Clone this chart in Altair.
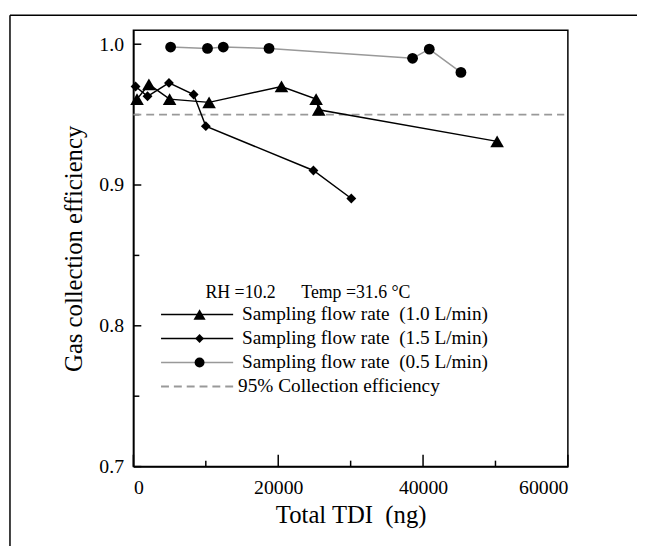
import altair as alt
import pandas as pd

# ---- data ----
tri_x = [500, 2140, 5000, 10450, 20450, 25230, 25590, 50230]
tri_y = [0.961, 0.9715, 0.961, 0.9587, 0.970, 0.961, 0.9534, 0.931]
dia_x = [300, 1950, 4910, 8320, 10000, 24860, 30090]
dia_y = [0.970, 0.963, 0.9725, 0.9643, 0.9418, 0.9103, 0.8904]
cir_x = [5140, 10230, 12410, 18730, 38550, 40860, 45230]
cir_y = [0.998, 0.997, 0.998, 0.997, 0.990, 0.9965, 0.980]
ref_level = 0.95

x_major = [0, 20000, 40000, 60000]
x_minor = [10000, 30000, 50000]
y_major = [0.7, 0.8, 0.9, 1.0]
y_minor = [0.75, 0.85, 0.95]

NB = "\u00a0"
legend_labels = [
    f"Sampling flow rate{NB} (1.0 L/min)",
    f"Sampling flow rate{NB} (1.5 L/min)",
    f"Sampling flow rate{NB} (0.5 L/min)",
    "95% Collection efficiency",
]
note_rh = "RH =10.2"
note_temp = "Temp =31.6 \u00b0C"

FONT = "Liberation Serif"
W, H = 440, 442
xs = alt.Scale(domain=[0, 60000], nice=False)
ys = alt.Scale(domain=[0.7, 1.01], nice=False, zero=False)
x_axis = alt.Axis(values=x_major, format="d", ticks=False, grid=False,
                  labelPadding=11, titlePadding=6)
y_axis = alt.Axis(values=y_major, format=".1f", ticks=False, grid=False,
                  labelPadding=10, titlePadding=13)
X_TITLE = f"Total TDI{NB} (ng)"
Y_TITLE = "Gas collection efficiency"


def X(field):
    return alt.X(field, scale=xs, axis=x_axis, title=X_TITLE)


def Y(field):
    return alt.Y(field, scale=ys, axis=y_axis, title=Y_TITLE)


def series(xv, yv, shape, size, line_color):
    df = pd.DataFrame({"x": xv, "y": yv})
    base = alt.Chart(df)
    line = base.mark_line(color=line_color, strokeWidth=1.5).encode(x=X("x:Q"), y=Y("y:Q"))
    pts = base.mark_point(shape=shape, size=size, filled=True, color="black", opacity=1).encode(
        x=X("x:Q"), y=Y("y:Q"))
    return [line, pts]


layers = []

# inward ticks
layers.append(alt.Chart(pd.DataFrame({"v": x_major})).mark_rule(color="black", strokeWidth=1.5).encode(
    x=X("v:Q"), y=alt.value(H), y2=alt.value(H - 12)))
layers.append(alt.Chart(pd.DataFrame({"v": x_minor})).mark_rule(color="black", strokeWidth=1.5).encode(
    x=X("v:Q"), y=alt.value(H), y2=alt.value(H - 6)))
layers.append(alt.Chart(pd.DataFrame({"v": y_major})).mark_rule(color="black", strokeWidth=1.5).encode(
    y=Y("v:Q"), x=alt.value(0), x2=alt.value(8)))
layers.append(alt.Chart(pd.DataFrame({"v": y_minor})).mark_rule(color="black", strokeWidth=1.5).encode(
    y=Y("v:Q"), x=alt.value(0), x2=alt.value(6)))

# 95% reference line
layers.append(alt.Chart(pd.DataFrame({"y": [ref_level], "x0": [0], "x1": [59500]})).mark_rule(
    color="#999999", strokeWidth=2, strokeDash=[8, 5]).encode(
    y=Y("y:Q"), x=X("x0:Q"), x2="x1:Q"))

layers += series(tri_x, tri_y, "triangle-up", 190, "black")
layers += series(dia_x, dia_y, "diamond", 100, "black")
layers += series(cir_x, cir_y, "circle", 120, "#999999")

# notes
one = pd.DataFrame({"a": [0]})
layers.append(alt.Chart(one).mark_text(text=note_rh, font=FONT, fontSize=18, align="left",
                                       baseline="middle", color="black").encode(
    x=alt.value(73), y=alt.value(266)))
layers.append(alt.Chart(one).mark_text(text=note_temp, font=FONT, fontSize=18, align="left",
                                       baseline="middle", color="black").encode(
    x=alt.value(170), y=alt.value(266)))

# manual legend
shapes = ["triangle-up", "diamond", "circle", None]
sizes = [150, 80, 100, 0]
lcolors = ["black", "black", "#999999", "#999999"]
row0, step = 288, 24.3
lx0, lx1, mx, tx = 28, 101, 67, 110
for i, lab in enumerate(legend_labels):
    yy = row0 + i * step
    if shapes[i] is None:
        layers.append(alt.Chart(one).mark_rule(color=lcolors[i], strokeWidth=2, strokeDash=[8, 5]).encode(
            x=alt.value(lx0), x2=alt.value(lx1 + 2), y=alt.value(yy)))
        tx_i = tx - 4
    else:
        layers.append(alt.Chart(one).mark_rule(color=lcolors[i], strokeWidth=1.5).encode(
            x=alt.value(lx0), x2=alt.value(lx1), y=alt.value(yy)))
        layers.append(alt.Chart(one).mark_point(shape=shapes[i], size=sizes[i], filled=True,
                                                color="black", opacity=1).encode(
            x=alt.value(mx), y=alt.value(yy)))
        tx_i = tx
    layers.append(alt.Chart(one).mark_text(text=lab, font=FONT, fontSize=19.5, align="left",
                                           baseline="middle", color="black").encode(
        x=alt.value(tx_i), y=alt.value(yy)))

# outer frame (cut off at right and bottom)
layers.append(alt.Chart(one).mark_rule(color="black", strokeWidth=1.5).encode(
    x=alt.value(-125), x2=alt.value(530), y=alt.value(-15)))
layers.append(alt.Chart(one).mark_rule(color="black", strokeWidth=1.5).encode(
    x=alt.value(-125), y=alt.value(-15), y2=alt.value(540)))

chart = alt.layer(*layers).properties(
    width=W, height=H,
    autosize=alt.AutoSizeParams(type="none"),
    padding={"left": 127, "top": 19, "right": 70, "bottom": 77},
    background="white",
).configure_view(stroke="black", strokeWidth=1.5).configure_axis(
    domainColor="black", domainWidth=1.5, labelFont=FONT, labelFontSize=20,
    labelColor="black", titleFont=FONT, titleFontSize=25, titleFontWeight="normal",
    titleColor="black",
)

chart.save("out.html", embed_options={"renderer": "svg", "actions": False})
